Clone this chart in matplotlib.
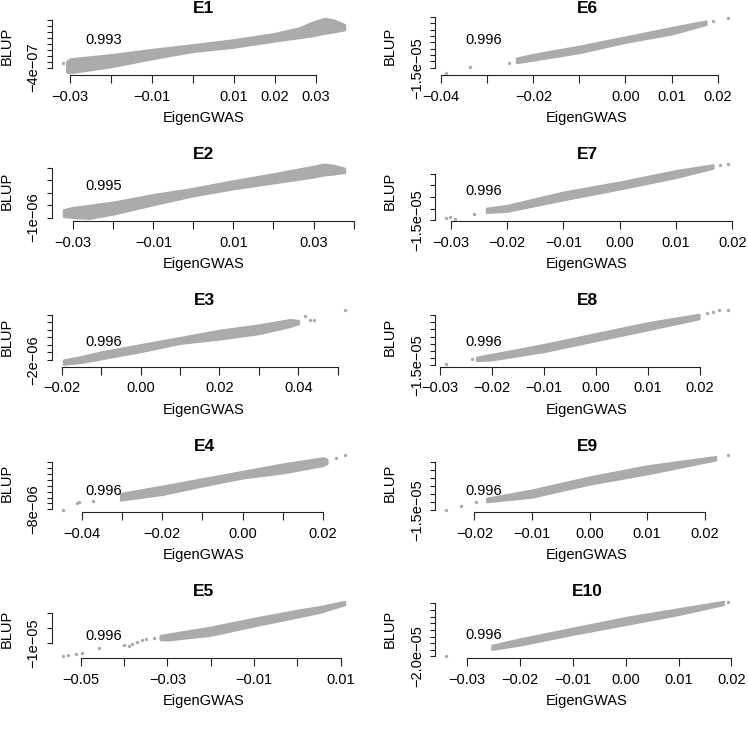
import numpy as np
import matplotlib
matplotlib.use('Agg')
import matplotlib.pyplot as plt

plt.rcParams['font.family'] = ['Liberation Sans', 'DejaVu Sans']

# ---------------- data ----------------
titles = ['E1', 'E2', 'E3', 'E4', 'E5', 'E6', 'E7', 'E8', 'E9', 'E10']
corr_text = ['0.993', '0.995', '0.996', '0.996', '0.996',
             '0.996', '0.996', '0.996', '0.996', '0.996']

# dense point cloud outline: x, lower edge, upper edge
e1_x = [-0.0308, -0.030, -0.0199, -0.0098, -0.0001, 0.0098, 0.020, 0.0260, 0.0290, 0.0322, 0.0345, 0.0371]
e1_lo = np.array([-4.77, -4.89, -3.88, -2.52, -1.33, -0.62, 0.45, 1.00, 1.30, 1.75, 2.00, 2.34]) * 1e-7
e1_hi = np.array([-2.99, -2.52, -1.81, -0.92, -0.15, 0.68, 1.75, 2.70, 3.60, 4.30, 4.00, 3.23]) * 1e-7
e1_ox = [-0.0316]
e1_oy = np.array([-3.29]) * 1e-7

e2_x = [-0.0325, -0.030, -0.026, -0.023, -0.020, -0.010, 0.000, 0.010, 0.020, 0.030, 0.0325, 0.035, 0.0378]
e2_lo = np.array([-0.958, -1.000, -1.040, -0.950, -0.860, -0.482, -0.119, 0.161, 0.399, 0.637, 0.721, 0.760, 0.819]) * 1e-6
e2_hi = np.array([-0.678, -0.580, -0.500, -0.430, -0.370, -0.063, 0.189, 0.497, 0.777, 1.080, 1.170, 1.120, 1.000]) * 1e-6
e2_ox = []
e2_oy = []

e3_x = [-0.0196, -0.015, -0.010, 0.000, 0.010, 0.020, 0.030, 0.038, 0.0401]
e3_lo = np.array([-2.286, -2.167, -1.929, -1.453, -0.905, -0.620, -0.263, 0.213, 0.404]) * 1e-6
e3_hi = np.array([-2.000, -1.762, -1.453, -0.977, -0.501, -0.025, 0.332, 0.689, 0.618]) * 1e-6
e3_ox = [0.0418, 0.0430, 0.0440, 0.0518]
e3_oy = np.array([0.88, 0.62, 0.62, 1.33]) * 1e-6

e4_x = [-0.0304, -0.020, -0.010, 0.000, 0.010, 0.020, 0.021]
e4_lo = np.array([-4.9, -3.0, -0.1, 2.6, 4.3, 6.8, 7.5]) * 1e-6
e4_hi = np.array([-2.6, -0.1, 2.4, 4.9, 7.4, 9.5, 9.0]) * 1e-6
e4_ox = [-0.0446, -0.0413, -0.0407, -0.0372, 0.0233, 0.0254]
e4_oy = np.array([-8.25, -5.75, -5.5, -5.1, 9.5, 10.25]) * 1e-6

e5_x = [-0.0317, -0.030, -0.020, -0.010, 0.000, 0.005, 0.0109]
e5_lo = np.array([-0.75, -0.78, -0.47, 0.16, 0.75, 1.05, 1.57]) * 1e-5
e5_hi = np.array([-0.47, -0.38, 0.09, 0.68, 1.22, 1.45, 1.81]) * 1e-5
e5_ox = [-0.054, -0.053, -0.0511, -0.0497, -0.0458, -0.040, -0.0388, -0.0382,
         -0.0369, -0.0358, -0.0349, -0.0331]
e5_oy = np.array([-1.83, -1.79, -1.72, -1.67, -1.32, -1.08, -1.18, -1.01,
                  -0.89, -0.78, -0.71, -0.66]) * 1e-5

e6_x = [-0.0237, -0.020, -0.010, 0.000, 0.010, 0.0175]
e6_lo = np.array([-1.12, -0.91, -0.32, 0.50, 1.15, 1.91]) * 1e-5
e6_hi = np.array([-0.74, -0.44, 0.21, 0.94, 1.68, 2.20]) * 1e-5
e6_ox = [-0.0389, -0.0338, -0.0252, 0.0191, 0.0222]
e6_oy = np.array([-1.91, -1.47, -1.12, 2.20, 2.41]) * 1e-5

e7_x = [-0.0237, -0.020, -0.010, 0.000, 0.010, 0.0166]
e7_lo = np.array([-1.172, -1.125, -0.625, -0.156, 0.344, 0.750]) * 1e-5
e7_hi = np.array([-0.984, -0.859, -0.281, 0.156, 0.656, 0.906]) * 1e-5
e7_ox = [-0.0308, -0.0302, -0.0293, -0.0258, 0.0178, 0.0192]
e7_oy = np.array([-1.406, -1.375, -1.4375, -1.219, 0.906, 0.9375]) * 1e-5

e8_x = [-0.023, -0.020, -0.010, 0.000, 0.010, 0.0198]
e8_lo = np.array([-1.19, -1.14, -0.56, 0.21, 0.97, 1.74]) * 1e-5
e8_hi = np.array([-0.94, -0.74, -0.05, 0.72, 1.48, 2.07]) * 1e-5
e8_ox = [-0.0288, -0.0238, 0.0214, 0.0224, 0.0237, 0.0253]
e8_oy = np.array([-1.45, -1.09, 2.17, 2.25, 2.33, 2.38]) * 1e-5

e9_x = [-0.0179, -0.010, 0.000, 0.010, 0.0219]
e9_lo = np.array([-0.99, -0.70, 0.11, 0.75, 1.61]) * 1e-5
e9_hi = np.array([-0.76, -0.24, 0.57, 1.26, 1.84]) * 1e-5
e9_ox = [-0.0249, -0.0224, -0.0197, 0.024]
e9_oy = np.array([-1.50, -1.22, -0.99, 1.90]) * 1e-5

e10_x = [-0.0253, -0.020, -0.010, 0.000, 0.010, 0.0185]
e10_lo = np.array([-1.47, -1.15, -0.34, 0.40, 1.15, 1.90]) * 1e-5
e10_hi = np.array([-1.15, -0.67, 0.14, 0.94, 1.60, 2.16]) * 1e-5
e10_ox = [-0.0339, 0.0193]
e10_oy = np.array([-1.95, 2.12]) * 1e-5

# x ticks and which of them carry a label (as printed)
x_ticks = [
    [-0.03, -0.02, -0.01, 0.00, 0.01, 0.02, 0.03],
    [-0.03, -0.02, -0.01, 0.00, 0.01, 0.02, 0.03, 0.04],
    [-0.02, -0.01, 0.00, 0.01, 0.02, 0.03, 0.04, 0.05],
    [-0.04, -0.03, -0.02, -0.01, 0.00, 0.01, 0.02],
    [-0.05, -0.04, -0.03, -0.02, -0.01, 0.00, 0.01],
    [-0.04, -0.03, -0.02, -0.01, 0.00, 0.01, 0.02],
    [-0.03, -0.02, -0.01, 0.00, 0.01, 0.02],
    [-0.03, -0.02, -0.01, 0.00, 0.01, 0.02],
    [-0.02, -0.01, 0.00, 0.01, 0.02],
    [-0.03, -0.02, -0.01, 0.00, 0.01, 0.02],
]
x_labels = [
    ['\u22120.03', '', '\u22120.01', '', '0.01', '0.02', '0.03'],
    ['\u22120.03', '', '\u22120.01', '', '0.01', '', '0.03', ''],
    ['\u22120.02', '', '0.00', '', '0.02', '', '0.04', ''],
    ['\u22120.04', '', '\u22120.02', '', '0.00', '', '0.02'],
    ['\u22120.05', '', '\u22120.03', '', '\u22120.01', '', '0.01'],
    ['\u22120.04', '', '\u22120.02', '', '0.00', '0.01', '0.02'],
    ['\u22120.03', '\u22120.02', '\u22120.01', '0.00', '0.01', '0.02'],
    ['\u22120.03', '\u22120.02', '\u22120.01', '0.00', '0.01', '0.02'],
    ['\u22120.02', '\u22120.01', '0.00', '0.01', '0.02'],
    ['\u22120.03', '\u22120.02', '\u22120.01', '0.00', '0.01', '0.02'],
]
# y ticks: first value, step, count; only the lowest is labelled
y_start = [-4e-7, -1e-6, -2e-6, -8e-6, -1e-5, -1.5e-5, -1.5e-5, -1.5e-5, -1.5e-5, -2e-5]
y_step = [1e-7, 5e-7, 5e-7, 2e-6, 1e-5, 5e-6, 5e-6, 5e-6, 5e-6, 5e-6]
y_count = [9, 5, 7, 9, 3, 9, 5, 8, 7, 9]
y_label = ['\u22124e\u221207', '\u22121e\u221206', '\u22122e\u221206', '\u22128e\u221206', '\u22121e\u221205',
           '\u22121.5e\u221205', '\u22121.5e\u221205', '\u22121.5e\u221205', '\u22121.5e\u221205',
           '\u22122.0e\u221205']

bands = [(e1_x, e1_lo, e1_hi), (e2_x, e2_lo, e2_hi), (e3_x, e3_lo, e3_hi),
         (e4_x, e4_lo, e4_hi), (e5_x, e5_lo, e5_hi), (e6_x, e6_lo, e6_hi),
         (e7_x, e7_lo, e7_hi), (e8_x, e8_lo, e8_hi), (e9_x, e9_lo, e9_hi),
         (e10_x, e10_lo, e10_hi)]
outliers = [(e1_ox, e1_oy), (e2_ox, e2_oy), (e3_ox, e3_oy), (e4_ox, e4_oy),
            (e5_ox, e5_oy), (e6_ox, e6_oy), (e7_ox, e7_oy), (e8_ox, e8_oy),
            (e9_ox, e9_oy), (e10_ox, e10_oy)]

# ---------------- layout / style ----------------
W, H, DPI = 748, 736, 100
col_left_px = [52, 435]
ax_w_px, ax_h_px = 304, 59
ax_top0_px, row_pitch = 16, 145.75
corr_pos_y = [0.59, 0.59, 0.42, 0.36, 0.37, 0.59, 0.51, 0.42, 0.36, 0.39]
corr_pos_x = [0.171, 0.161]
pt_color = '#ababab'
fs = 10.5

fig = plt.figure(figsize=(W / DPI, H / DPI), dpi=DPI)
fig.patch.set_facecolor('white')

for i in range(10):
    col, row = i // 5, i % 5
    left = col_left_px[col] / W
    bottom = 1 - (ax_top0_px + ax_h_px + row * row_pitch) / H
    ax = fig.add_axes([left, bottom, ax_w_px / W, ax_h_px / H])
    ax.patch.set_alpha(0)

    bx, blo, bhi = bands[i]
    ox, oy = outliers[i]
    ax.fill_between(bx, blo, bhi, color=pt_color, lw=1.4, edgecolor=pt_color)
    if len(ox):
        ax.scatter(ox, oy, s=6, color=pt_color, lw=0)

    allx = np.concatenate([np.asarray(bx, float), np.asarray(ox, float)])
    ally = np.concatenate([np.asarray(blo, float), np.asarray(bhi, float), np.asarray(oy, float)])
    xr = allx.max() - allx.min()
    yr = ally.max() - ally.min()
    ax.set_xlim(allx.min() - 0.04 * xr, allx.max() + 0.04 * xr)
    ax.set_ylim(ally.min() - 0.04 * yr, ally.max() + 0.04 * yr)

    yt = [y_start[i] + k * y_step[i] for k in range(y_count[i])]
    ax.set_yticks(yt)
    ax.set_yticklabels([y_label[i]] + [''] * (len(yt) - 1), rotation=90, va='center')
    ax.set_xticks(x_ticks[i])
    ax.set_xticklabels(x_labels[i])

    for s in ['top', 'right']:
        ax.spines[s].set_visible(False)
    ax.spines['left'].set_bounds(yt[0], yt[-1])
    ax.spines['bottom'].set_bounds(x_ticks[i][0], x_ticks[i][-1])
    for s in ['left', 'bottom']:
        ax.spines[s].set_linewidth(0.8)
        ax.spines[s].set_color('#222222')

    ax.tick_params(axis='x', length=5.8, width=0.8, pad=5, labelsize=fs, color='#222222')
    ax.tick_params(axis='y', length=3.6, width=0.8, pad=4.5, labelsize=fs, color='#222222')

    ax.set_xlabel('EigenGWAS', fontsize=fs)
    ax.xaxis.set_label_coords(0.5, -0.73)
    ax.xaxis.label.set_va('center')
    ax.set_ylabel('BLUP', fontsize=fs)
    ax.yaxis.set_label_coords(-45 / ax_w_px, 0.5)
    ax.yaxis.label.set_va('center')

    ax.set_title(titles[i], fontsize=12.5, fontweight='bold', y=1.12, va='center', pad=0)
    ax.text(corr_pos_x[col], corr_pos_y[i], corr_text[i], transform=ax.transAxes,
            ha='center', va='center', fontsize=fs)

fig.savefig('out.png', dpi=DPI)
